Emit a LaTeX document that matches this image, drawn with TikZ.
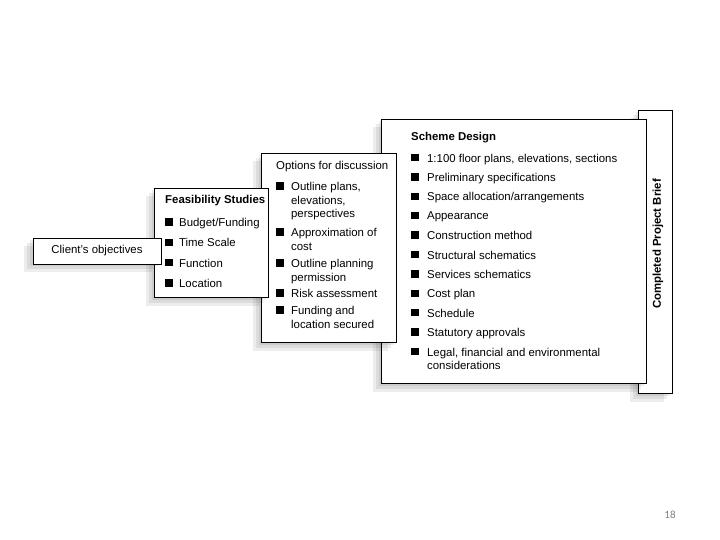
\documentclass[tikz,border=0pt]{standalone}
\usepackage{fontspec}
\setmainfont{Liberation Sans}
\newfontfamily\pagefont{Carlito}
\usetikzlibrary{positioning}

\begin{document}
\begin{tikzpicture}[x=1pt, y=-1pt,
    font=\fontsize{11.4}{13.6}\selectfont,
    box/.style={draw, fill=white, line width=1pt, inner sep=0pt, anchor=north west,
        preaction={fill=black, opacity=.07, transform canvas={xshift=-3pt, yshift=-2pt}},
        preaction={fill=black, opacity=.07, transform canvas={xshift=-6pt, yshift=-5pt}},
        preaction={fill=black, opacity=.07, transform canvas={xshift=-9pt, yshift=-8pt}}},
    bullet/.style={fill=black, inner sep=0pt, minimum size=7.5pt},
    item/.style={inner sep=0pt, align=left, anchor=north west},
    heading/.style={inner sep=0pt, anchor=west, font=\fontsize{11.4}{13.6}\selectfont\bfseries}]
    \useasboundingbox (0,0) rectangle (720,540);

    % Boxes, back to front
    \node[box, minimum width=34pt, minimum height=283pt] (brief) at (638,110) {};
    \node[heading, anchor=center, rotate=90] (brieftext) at (658,244) {Completed Project Brief};

    \node[box, minimum width=265pt, minimum height=264pt] (scheme) at (381,119) {};
    \node[heading] (schemetitle) at (411,138) {Scheme Design};
    \foreach \txt [count=\i] in {{1:100 floor plans, elevations, sections}, {Preliminary specifications},
        {Space allocation/arrangements}, {Appearance}, {Construction method}, {Structural schematics},
        {Services schematics}, {Cost plan}, {Schedule}, {Statutory approvals},
        {Legal, financial and environmental\\considerations}} {
        \node[bullet] (sb\i) at (415,{157.5+19.4*(\i-1)}) {};
        \node[right=8pt of sb\i.north east, item] (st\i) {\txt};
    }

    \node[box, minimum width=135pt, minimum height=189pt] (options) at (261,153) {};
    \node[inner sep=0pt, anchor=west] (optionstitle) at (276,167) {Options for discussion};
    \foreach \y/\txt [count=\i] in {186/{Outline plans,\\elevations,\\perspectives},
        232/{Approximation of\\cost}, 263/{Outline planning\\permission},
        293/{Risk assessment}, 310/{Funding and\\location secured}} {
        \node[bullet] (ob\i) at (280,\y) {};
        \node[right=7pt of ob\i.north east, item] (ot\i) {\txt};
    }

    \node[box, minimum width=114pt, minimum height=109pt] (feasibility) at (154,188) {};
    \node[heading] (feasibilitytitle) at (165,201) {Feasibility Studies};
    \foreach \y/\txt [count=\i] in {222/{Budget/Funding}, 242.3/{Time Scale}, 262.6/{Function}, 283/{Location}} {
        \node[bullet] (fb\i) at (169,\y) {};
        \node[right=6pt of fb\i.north east, item] (ft\i) {\txt};
    }

    \node[box, minimum width=128pt, minimum height=26pt, anchor=center] (client) at (97,251) {Client's objectives};

    % page number
    \node[font=\pagefont\fontsize{11}{12}\selectfont, text=gray] (pagenum) at (670,515) {18};
\end{tikzpicture}
\end{document}
